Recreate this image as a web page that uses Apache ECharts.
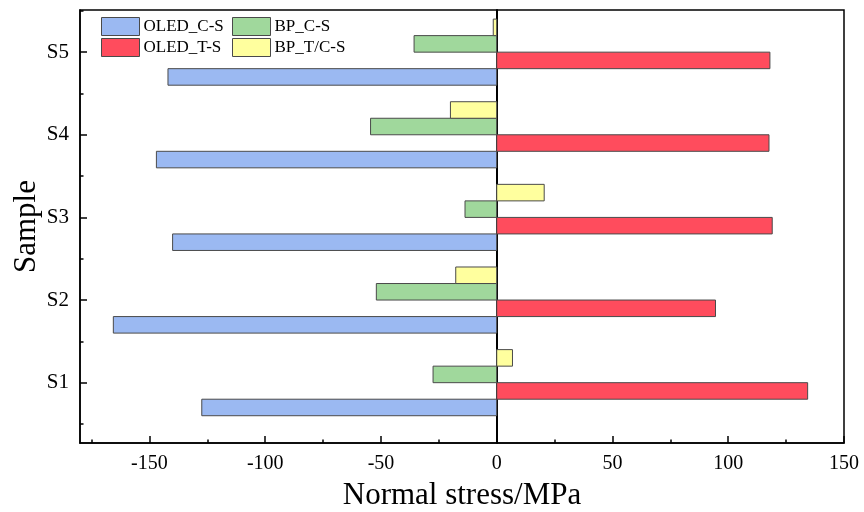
<!DOCTYPE html>
<html>
<head>
<meta charset="utf-8">
<script src="https://cdn.jsdelivr.net/npm/echarts@6/dist/echarts.min.js"></script>
<style>html,body{margin:0;padding:0;background:#fff}#c{width:864px;height:512px}</style>
</head>
<body>
<div id="c"></div>
<script>
const categories = ['S1', 'S2', 'S3', 'S4', 'S5'];
const oledCS = [-127.4, -165.6, -140.0, -147.0, -142.0];
const oledTS = [134.3, 94.5, 119.0, 117.6, 118.0];
const bpCS = [-27.5, -52.0, -13.7, -54.5, -35.7];
const bpTCS = [6.8, -17.7, 20.5, -20.0, -1.5];
const xTickLabels = [-150, -100, -50, 0, 50, 100, 150];
const xMinorTicks = [-175, -125, -75, -25, 25, 75, 125];
const yMinorTicks = [0.5, 1.5, 2.5, 3.5, 4.5, 5.5];

const FONT = '"Liberation Serif", "Times New Roman", serif';
const BAR_H = 0.2;
const BORDER = '#4a4a4a';

function toData(arr) { return arr.map((v, i) => [v, i + 1]); }
function makeRender(offset, color) {
  return function (params, api) {
    const v = api.value(0), y = api.value(1);
    const p0 = api.coord([0, y + offset + BAR_H / 2]);
    const p1 = api.coord([v, y + offset - BAR_H / 2]);
    return {
      type: 'rect',
      shape: {
        x: Math.min(p0[0], p1[0]), y: Math.min(p0[1], p1[1]),
        width: Math.abs(p1[0] - p0[0]), height: Math.abs(p1[1] - p0[1])
      },
      style: { fill: color, stroke: BORDER, lineWidth: 1 }
    };
  };
}
const seriesDefs = [
  { name: 'OLED_C-S', data: oledCS, color: '#9BB9F2', offset: -0.3 },
  { name: 'OLED_T-S', data: oledTS, color: '#FF4C5D', offset: -0.1 },
  { name: 'BP_C-S', data: bpCS, color: '#A0D89C', offset: 0.1 },
  { name: 'BP_T/C-S', data: bpTCS, color: '#FFFF9E', offset: 0.3 }
];

const chart = echarts.init(document.getElementById('c'));
const yMin = 0.27, yMax = 5.51, xMin = -180, xMax = 150;
const legendCommon = {
  orient: 'vertical', itemWidth: 38, itemHeight: 18, itemGap: 2, icon: 'rect', padding: 0,
  itemStyle: { borderColor: BORDER, borderWidth: 1 },
  textStyle: { fontFamily: FONT, fontSize: 17, color: '#000', padding: [0, 0, 0, -1] }
};
chart.setOption({
  animation: false,
  backgroundColor: '#fff',
  grid: { left: 80, right: 20, top: 10, bottom: 69, containLabel: false, outerBoundsMode: 'none', show: true, borderColor: '#000', borderWidth: 1.5, backgroundColor: 'transparent' },
  legend: [
    Object.assign({ left: 101, top: 17, data: ['OLED_C-S', 'OLED_T-S'] }, legendCommon),
    Object.assign({ left: 232, top: 17, data: ['BP_C-S', 'BP_T/C-S'] }, legendCommon)
  ],
  xAxis: [
    {
      type: 'value', min: xMin, max: xMax, position: 'bottom',
      name: 'Normal stress/MPa', nameLocation: 'middle', nameGap: 37, nameMoveOverlap: false,
      nameTextStyle: { fontFamily: FONT, fontSize: 31, color: '#000' },
      axisLine: { onZero: false, lineStyle: { color: '#000', width: 1.5 } },
      axisTick: { inside: true, length: 7, customValues: xTickLabels, lineStyle: { color: '#000', width: 1.5 } },
      axisLabel: { customValues: xTickLabels, fontFamily: FONT, fontSize: 20, color: '#000', margin: 11 },
      splitLine: { show: false }
    },
    {
      type: 'value', min: xMin, max: xMax, position: 'bottom',
      axisLine: { show: false, onZero: false },
      axisTick: { inside: true, length: 3.5, customValues: xMinorTicks, lineStyle: { color: '#000', width: 1.5 } },
      axisLabel: { show: false },
      splitLine: { show: false }
    }
  ],
  yAxis: [
    {
      type: 'value', min: yMin, max: yMax, position: 'left',
      name: 'Sample', nameLocation: 'middle', nameGap: 38, nameMoveOverlap: false,
      nameTextStyle: { fontFamily: FONT, fontSize: 31, color: '#000' },
      axisLine: { onZero: false, lineStyle: { color: '#000', width: 1.5 } },
      axisTick: { inside: true, length: 7, customValues: [1, 2, 3, 4, 5], lineStyle: { color: '#000', width: 1.5 } },
      axisLabel: { customValues: [1, 2, 3, 4, 5], formatter: v => categories[Math.round(v) - 1] || '', fontFamily: FONT, fontSize: 21, color: '#000', margin: 11 },
      splitLine: { show: false }
    },
    {
      type: 'value', min: yMin, max: yMax, position: 'left',
      axisLine: { show: false, onZero: false },
      axisTick: { inside: true, length: 3.5, customValues: yMinorTicks, lineStyle: { color: '#000', width: 1.5 } },
      axisLabel: { show: false },
      splitLine: { show: false }
    },
    {
      type: 'value', min: yMin, max: yMax, position: 'left',
      axisLine: { show: true, onZero: true, onZeroAxisIndex: 0, lineStyle: { color: '#000', width: 2 } },
      axisTick: { show: false }, axisLabel: { show: false }, splitLine: { show: false }
    }
  ],
  series: seriesDefs.map(s => ({
    type: 'custom', name: s.name, xAxisIndex: 0, yAxisIndex: 0,
    itemStyle: { color: s.color, borderColor: BORDER, borderWidth: 1 },
    renderItem: makeRender(s.offset, s.color),
    encode: { x: 0, y: 1 },
    data: toData(s.data)
  }))
});
</script>
</body>
</html>
